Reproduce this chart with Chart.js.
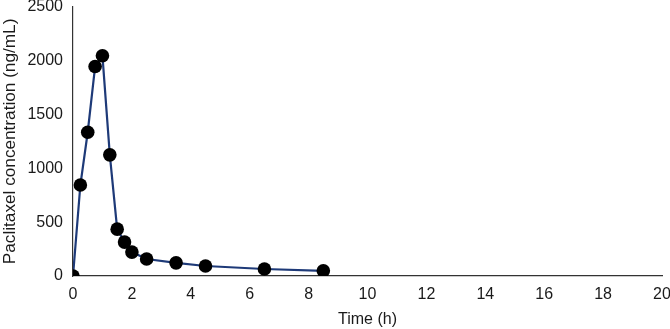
<!DOCTYPE html>
<html>
<head>
<meta charset="utf-8">
<script src="https://cdn.jsdelivr.net/npm/chart.js@4/dist/chart.umd.min.js"></script>
<style>
  html, body { margin: 0; padding: 0; background: #fff; }
  #wrap { width: 670px; height: 329px; }
</style>
</head>
<body>
<div id="wrap"><canvas id="c" width="670" height="329"></canvas></div>
<script>
const timeHours = [0, 0.25, 0.5, 0.75, 1.0, 1.25, 1.5, 1.75, 2.0, 2.5, 3.5, 4.5, 6.5, 8.5];
const concentration = [0, 845, 1335, 1945, 2045, 1125, 435, 315, 222, 158, 122, 93, 65, 48];
const xTickValues = [0, 2, 4, 6, 8, 10, 12, 14, 16, 18, 20];
const yTickValues = [0, 500, 1000, 1500, 2000, 2500];
const xTitle = 'Time (h)';
const yTitle = 'Paclitaxel concentration (ng/mL)';

const points = timeHours.map((t, i) => ({ x: t, y: concentration[i] }));
const FONT = { family: '"Liberation Sans", Arial, Helvetica, sans-serif', size: 16 };
const TXT = '#1a1a1a';

new Chart(document.getElementById('c'), {
  type: 'scatter',
  data: {
    datasets: [{
      data: points,
      showLine: true,
      borderColor: '#1e3a78',
      borderWidth: 2.2,
      pointBackgroundColor: '#000',
      pointBorderColor: '#000',
      pointBorderWidth: 0,
      pointRadius: 6.8,
      pointHoverRadius: 6.8,
      tension: 0
    }]
  },
  options: {
    responsive: false,
    animation: false,
    events: [],
    layout: { padding: { top: 6, right: 8, left: 0, bottom: 0 } },
    plugins: { legend: { display: false }, tooltip: { enabled: false } },
    scales: {
      x: {
        type: 'linear',
        min: 0, max: 20,
        afterBuildTicks: s => { s.ticks = xTickValues.map(v => ({ value: v })); },
        afterFit: s => { s.height = 53; s.paddingLeft = 0; s.paddingRight = 0; },
        grid: { display: false, drawTicks: false },
        border: { display: true, color: '#333', width: 1.2 },
        ticks: { color: TXT, font: FONT, padding: 9, maxRotation: 0, autoSkip: false, callback: v => String(v) },
        title: { display: true, text: xTitle, color: TXT, font: FONT, padding: { top: 8, bottom: 0 } }
      },
      y: {
        type: 'linear',
        min: 0, max: 2500,
        afterBuildTicks: s => { s.ticks = yTickValues.map(v => ({ value: v })); },
        afterFit: s => { s.width = 73; s.paddingTop = 0; s.paddingBottom = 0; },
        grid: { display: false, drawTicks: false },
        border: { display: true, color: '#333', width: 1.2 },
        ticks: { color: TXT, font: FONT, padding: 10, callback: v => String(v) },
        title: { display: true, text: yTitle, color: TXT, font: { family: FONT.family, size: 17.2 }, padding: { top: 0, bottom: 0 } }
      }
    }
  }
});
</script>
</body>
</html>
